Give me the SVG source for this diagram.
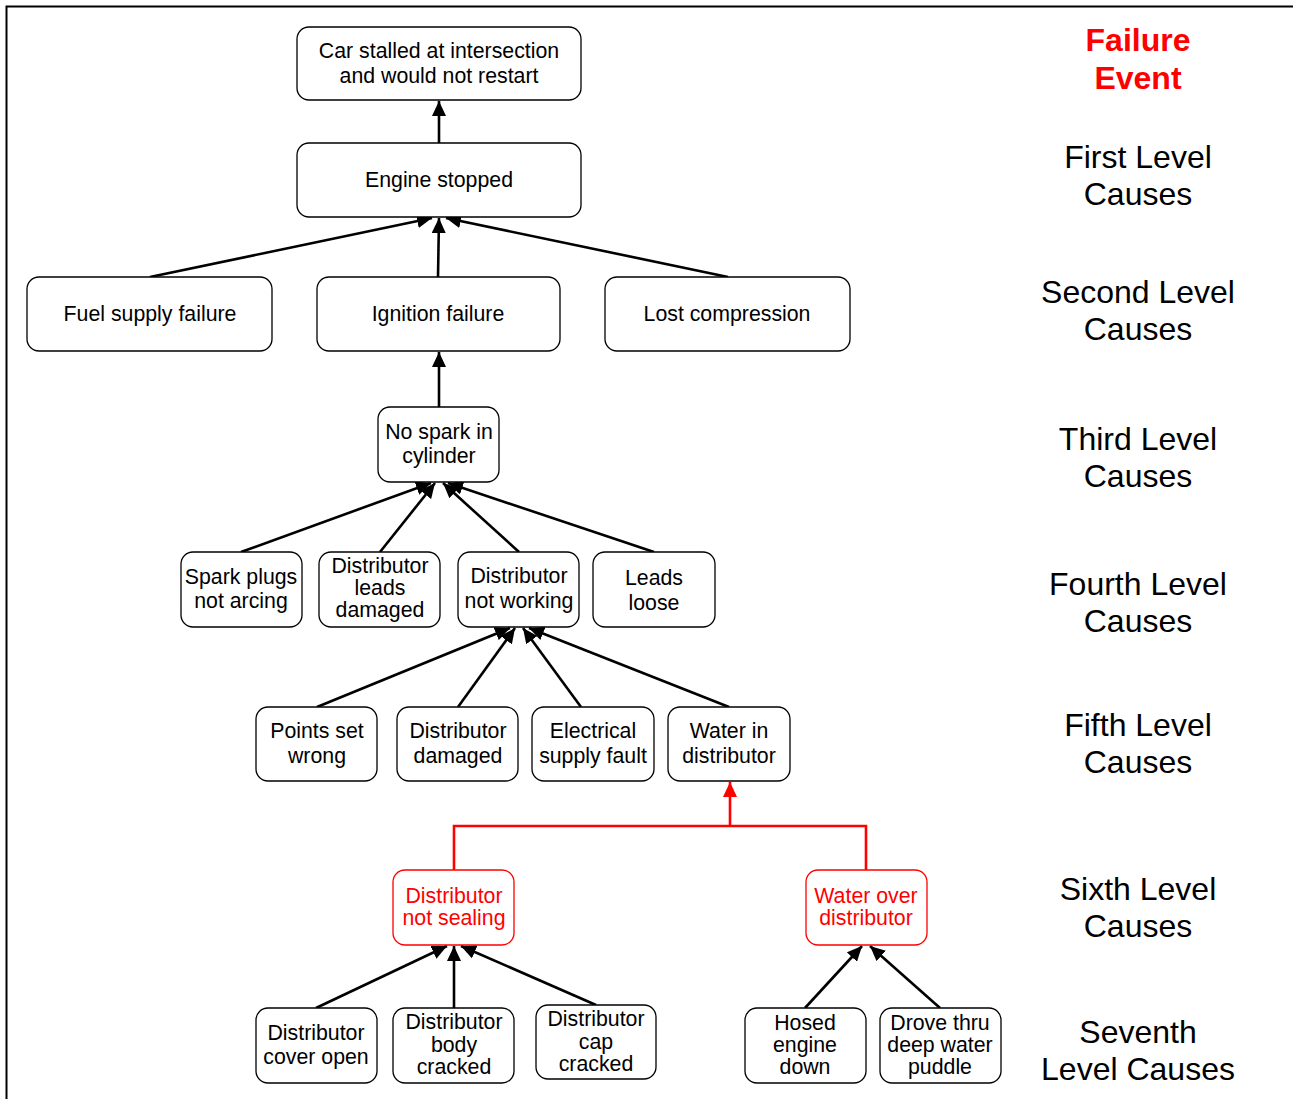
<svg xmlns="http://www.w3.org/2000/svg" width="1293" height="1099" viewBox="0 0 1293 1099">
  <style>
    .box { fill: #fff; stroke: #000; stroke-width: 1.3; }
    .box.red { stroke: #f00; }
    .t { font-family: "Liberation Sans", Arial, sans-serif; font-size: 21.3px; fill: #000; text-anchor: middle; }
    .t.red { fill: #f00; }
    .lvl { font-family: "Liberation Sans", Arial, sans-serif; font-size: 32px; fill: #000; text-anchor: middle; }
    .lvl.head { fill: #f00; font-weight: bold; }
    .edge { fill: none; stroke: #000; stroke-width: 2.6; marker-end: url(#arr); }
    .edge.red { stroke: #f00; }
    .edge.red.tip { marker-end: url(#arrRed); }
    .edge.red.plain { marker-end: none; }
  </style>
  <defs>
    <marker id="arr" markerUnits="userSpaceOnUse" markerWidth="16" markerHeight="14" refX="15" refY="7" orient="auto">
      <path d="M0,0 L15,7 L0,14 z" fill="#000"/>
    </marker>
    <marker id="arrRed" markerUnits="userSpaceOnUse" markerWidth="16" markerHeight="14" refX="15" refY="7" orient="auto">
      <path d="M0,0 L15,7 L0,14 z" fill="#f00"/>
    </marker>
  </defs>

  <rect width="1293" height="1099" fill="#fff"/>
  <!-- page frame -->
  <rect x="6.5" y="6.5" width="1300" height="1110" fill="none" stroke="#000" stroke-width="2"/>

  <!-- level captions -->
  <g id="levels">
    <text class="lvl head" x="1138" y="51">Failure</text>
    <text class="lvl head" x="1138" y="89">Event</text>
    <text class="lvl" x="1138" y="168">First Level</text>
    <text class="lvl" x="1138" y="205">Causes</text>
    <text class="lvl" x="1138" y="303">Second Level</text>
    <text class="lvl" x="1138" y="340">Causes</text>
    <text class="lvl" x="1138" y="450">Third Level</text>
    <text class="lvl" x="1138" y="487">Causes</text>
    <text class="lvl" x="1138" y="595">Fourth Level</text>
    <text class="lvl" x="1138" y="632">Causes</text>
    <text class="lvl" x="1138" y="736">Fifth Level</text>
    <text class="lvl" x="1138" y="773">Causes</text>
    <text class="lvl" x="1138" y="900">Sixth Level</text>
    <text class="lvl" x="1138" y="937">Causes</text>
    <text class="lvl" x="1138" y="1043">Seventh</text>
    <text class="lvl" x="1138" y="1080">Level Causes</text>
  </g>

  <!-- connectors -->
  <g id="connectors">
    <line class="edge" x1="439" y1="143" x2="439" y2="101"/>
    <line class="edge" x1="150" y1="277" x2="432" y2="218"/>
    <line class="edge" x1="438" y1="277" x2="439" y2="218"/>
    <line class="edge" x1="728" y1="277" x2="446" y2="218"/>
    <line class="edge" x1="439" y1="407" x2="439" y2="352"/>
    <line class="edge" x1="241" y1="552" x2="431" y2="483"/>
    <line class="edge" x1="380" y1="552" x2="435" y2="483"/>
    <line class="edge" x1="519" y1="552" x2="443" y2="483"/>
    <line class="edge" x1="654" y1="552" x2="448" y2="483"/>
    <line class="edge" x1="317" y1="707" x2="510" y2="628"/>
    <line class="edge" x1="458" y1="707" x2="515" y2="628"/>
    <line class="edge" x1="581" y1="707" x2="523" y2="628"/>
    <line class="edge" x1="729" y1="707" x2="529" y2="628"/>
    <polyline class="edge red plain" points="454,870 454,826 866,826 866,870"/>
    <line class="edge red tip" x1="730" y1="826" x2="730" y2="782"/>
    <line class="edge" x1="316" y1="1008" x2="447" y2="946"/>
    <line class="edge" x1="454" y1="1008" x2="454" y2="946"/>
    <line class="edge" x1="596" y1="1005" x2="461" y2="946"/>
    <line class="edge" x1="805" y1="1008" x2="862" y2="946"/>
    <line class="edge" x1="940" y1="1008" x2="870" y2="946"/>
  </g>

  <!-- failure event -->
  <g id="n-stalled">
    <rect class="box" x="297" y="27" width="284" height="73" rx="12"/>
    <text class="t" x="439" y="58">Car stalled at intersection</text>
    <text class="t" x="439" y="83">and would not restart</text>
  </g>
  <g id="n-engine">
    <rect class="box" x="297" y="143" width="284" height="74" rx="12"/>
    <text class="t" x="439" y="187">Engine stopped</text>
  </g>

  <!-- second level -->
  <g id="n-fuel">
    <rect class="box" x="27" y="277" width="245" height="74" rx="12"/>
    <text class="t" x="150" y="321">Fuel supply failure</text>
  </g>
  <g id="n-ignition">
    <rect class="box" x="317" y="277" width="243" height="74" rx="12"/>
    <text class="t" x="438" y="321">Ignition failure</text>
  </g>
  <g id="n-compression">
    <rect class="box" x="605" y="277" width="245" height="74" rx="12"/>
    <text class="t" x="727" y="321">Lost compression</text>
  </g>

  <!-- third level -->
  <g id="n-nospark">
    <rect class="box" x="378" y="407" width="121" height="75" rx="12"/>
    <text class="t" x="439" y="439">No spark in</text>
    <text class="t" x="439" y="463">cylinder</text>
  </g>

  <!-- fourth level -->
  <g id="n-plugs">
    <rect class="box" x="181" y="552" width="121" height="75" rx="12"/>
    <text class="t" x="241" y="584">Spark plugs</text>
    <text class="t" x="241" y="608">not arcing</text>
  </g>
  <g id="n-leads-damaged">
    <rect class="box" x="319" y="552" width="121" height="75" rx="12"/>
    <text class="t" x="380" y="573">Distributor</text>
    <text class="t" x="380" y="595">leads</text>
    <text class="t" x="380" y="617">damaged</text>
  </g>
  <g id="n-dist-notworking">
    <rect class="box" x="458" y="552" width="121" height="75" rx="12"/>
    <text class="t" x="519" y="583">Distributor</text>
    <text class="t" x="519" y="608">not working</text>
  </g>
  <g id="n-leads-loose">
    <rect class="box" x="593" y="552" width="122" height="75" rx="12"/>
    <text class="t" x="654" y="585">Leads</text>
    <text class="t" x="654" y="610">loose</text>
  </g>

  <!-- fifth level -->
  <g id="n-points">
    <rect class="box" x="256" y="707" width="121" height="74" rx="12"/>
    <text class="t" x="317" y="738">Points set</text>
    <text class="t" x="317" y="763">wrong</text>
  </g>
  <g id="n-dist-damaged">
    <rect class="box" x="397" y="707" width="121" height="74" rx="12"/>
    <text class="t" x="458" y="738">Distributor</text>
    <text class="t" x="458" y="763">damaged</text>
  </g>
  <g id="n-electrical">
    <rect class="box" x="532" y="707" width="122" height="74" rx="12"/>
    <text class="t" x="593" y="738">Electrical</text>
    <text class="t" x="593" y="763">supply fault</text>
  </g>
  <g id="n-water-in">
    <rect class="box" x="668" y="707" width="122" height="74" rx="12"/>
    <text class="t" x="729" y="738">Water in</text>
    <text class="t" x="729" y="763">distributor</text>
  </g>

  <!-- sixth level -->
  <g id="n-notsealing">
    <rect class="box red" x="393" y="870" width="121" height="75" rx="12"/>
    <text class="t red" x="454" y="903">Distributor</text>
    <text class="t red" x="454" y="925">not sealing</text>
  </g>
  <g id="n-water-over">
    <rect class="box red" x="806" y="870" width="121" height="75" rx="12"/>
    <text class="t red" x="866" y="903">Water over</text>
    <text class="t red" x="866" y="925">distributor</text>
  </g>

  <!-- seventh level -->
  <g id="n-cover-open">
    <rect class="box" x="256" y="1008" width="121" height="75" rx="12"/>
    <text class="t" x="316" y="1040">Distributor</text>
    <text class="t" x="316" y="1064">cover open</text>
  </g>
  <g id="n-body-cracked">
    <rect class="box" x="393" y="1008" width="121" height="75" rx="12"/>
    <text class="t" x="454" y="1029">Distributor</text>
    <text class="t" x="454" y="1052">body</text>
    <text class="t" x="454" y="1074">cracked</text>
  </g>
  <g id="n-cap-cracked">
    <rect class="box" x="536" y="1005" width="120" height="74" rx="12"/>
    <text class="t" x="596" y="1026">Distributor</text>
    <text class="t" x="596" y="1049">cap</text>
    <text class="t" x="596" y="1071">cracked</text>
  </g>
  <g id="n-hosed">
    <rect class="box" x="745" y="1008" width="121" height="75" rx="12"/>
    <text class="t" x="805" y="1030">Hosed</text>
    <text class="t" x="805" y="1052">engine</text>
    <text class="t" x="805" y="1074">down</text>
  </g>
  <g id="n-puddle">
    <rect class="box" x="880" y="1008" width="121" height="75" rx="12"/>
    <text class="t" x="940" y="1030">Drove thru</text>
    <text class="t" x="940" y="1052">deep water</text>
    <text class="t" x="940" y="1074">puddle</text>
  </g>
</svg>
